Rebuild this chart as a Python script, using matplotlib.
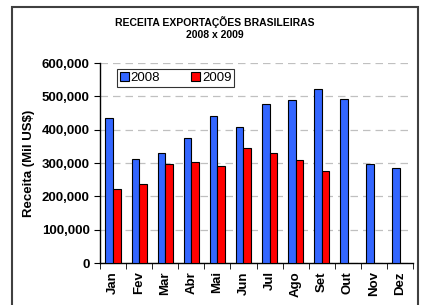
import matplotlib
matplotlib.use('Agg')
import matplotlib.pyplot as plt
import numpy as np
from matplotlib.patches import Rectangle
from matplotlib.ticker import FuncFormatter

plt.rcParams['font.family'] = ['Liberation Sans', 'DejaVu Sans']

# Dados
meses = ['Jan', 'Fev', 'Mar', 'Abr', 'Mai', 'Jun', 'Jul', 'Ago', 'Set', 'Out', 'Nov', 'Dez']
receita_2008 = [434000, 311000, 330000, 376000, 442000, 409000, 477000, 488000, 521000, 493000, 296000, 284000]
receita_2009 = [223000, 236000, 297000, 303000, 290000, 346000, 331000, 308000, 276000]

fig = plt.figure(figsize=(4.3, 3.05), dpi=100)
fig.patch.set_facecolor('white')

# Moldura externa
fig.patches.append(Rectangle((12 / 430, -0.05), 406 / 430, 1 - 7 / 305 + 0.05,
                             transform=fig.transFigure, fill=False,
                             edgecolor='#404040', linewidth=1.5))

ax = fig.add_axes([100 / 430, 1 - 263 / 305, 313 / 430, 200 / 305])

x = np.arange(len(meses))
w = 0.29
ax.bar(x[:len(receita_2008)] - w / 2, receita_2008, w, color='#3366ff',
       edgecolor='black', linewidth=0.8, label='2008', zorder=3)
ax.bar(x[:len(receita_2009)] + w / 2, receita_2009, w, color='#ff0000',
       edgecolor='black', linewidth=0.8, label='2009', zorder=3)

ax.set_xlim(-0.5, len(meses) - 0.5)
ax.set_ylim(0, 600000)
ax.set_yticks(np.arange(0, 600001, 100000))
ax.yaxis.set_major_formatter(FuncFormatter(lambda v, p: '{:,.0f}'.format(v)))
ax.yaxis.grid(True, linestyle=(0, (6, 4)), color='#c0c0c0', linewidth=0.9, zorder=0)

ax.set_xticks(x)
ax.set_xticklabels(meses, rotation=90, fontsize=9.5, fontweight='bold')
ax.set_xticks(np.arange(-0.5, len(meses), 1), minor=True)
ax.tick_params(axis='x', which='major', length=0, pad=6)
ax.tick_params(axis='x', which='minor', length=4, direction='out', color='black')
ax.tick_params(axis='y', length=4, direction='out', labelsize=9.5, color='black')
for lab in ax.get_yticklabels():
    lab.set_fontweight('bold')

for s in ['top', 'right']:
    ax.spines[s].set_visible(False)
for s in ['left', 'bottom']:
    ax.spines[s].set_color('black')
    ax.spines[s].set_linewidth(1)

ax.set_ylabel('Receita (Mil US$)', fontsize=9.5, fontweight='bold', labelpad=5)

fig.text(0.5, 1 - 22 / 305, 'RECEITA EXPORTAÇÕES BRASILEIRAS', ha='center', va='center',
         fontsize=7.5, fontweight='bold')
fig.text(0.5, 1 - 35 / 305, '2008 x 2009', ha='center', va='center',
         fontsize=7.5, fontweight='bold')

leg = ax.legend(loc='upper left', bbox_to_anchor=(0.054, 0.97), ncol=2, fontsize=9.5,
                frameon=True, fancybox=False, edgecolor='black', borderpad=0.2,
                handlelength=0.7, handleheight=0.7, handletextpad=0.15, columnspacing=2.3,
                borderaxespad=0)
leg.get_frame().set_linewidth(0.8)

fig.savefig('out.png', dpi=100)
